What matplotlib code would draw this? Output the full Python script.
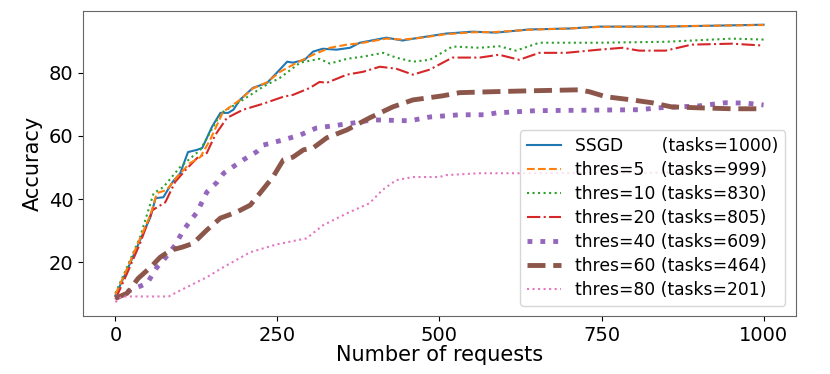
import numpy as np
import matplotlib
matplotlib.use('Agg')
import matplotlib.pyplot as plt

# values (x = number of requests, y = accuracy)
ssgd_x = [0, 18, 38, 54, 62, 74, 88, 100, 112, 126, 134, 149, 162, 174, 182, 192, 212,
          234, 249, 265, 274, 292, 305, 320, 341, 362, 377, 418, 443, 469, 510, 551,
          587, 638, 700, 746, 849, 1000]
ssgd_y = [9.5, 17.5, 27.0, 34.3, 40.3, 40.6, 45.4, 48.2, 54.9, 55.6, 56.2, 62.9, 67.3,
          67.3, 68.3, 71.4, 75.2, 76.8, 80.0, 83.5, 83.2, 84.1, 86.7, 87.6, 87.3, 87.9,
          89.5, 91.1, 90.2, 91.1, 92.4, 93.0, 92.7, 93.7, 94.0, 94.6, 94.6, 95.2]

thr5_x = [0, 18, 38, 54, 64, 79, 95, 115, 131, 146, 166, 192, 212, 234, 254, 280, 305,
          331, 357, 377, 418, 443, 469, 510, 551, 587, 638, 700, 746, 849, 1000]
thr5_y = [9.8, 18.0, 27.5, 35.0, 41.9, 42.9, 47.0, 51.4, 53.3, 58.7, 67.6, 71.4, 75.0,
          77.0, 80.3, 83.2, 85.7, 87.9, 88.9, 89.3, 90.8, 90.5, 91.0, 92.2, 92.8, 92.9,
          93.6, 94.0, 94.5, 94.7, 95.1]

thr10_x = [0, 18, 38, 59, 74, 100, 131, 157, 166, 192, 228, 254, 285, 315, 331, 357,
           382, 413, 433, 459, 485, 520, 562, 592, 618, 654, 746, 849, 951, 1000]
thr10_y = [10.2, 18.5, 28.0, 41.9, 43.8, 50.2, 55.6, 65.1, 67.6, 70.8, 75.6, 78.4, 83.2,
           84.4, 82.9, 84.4, 85.1, 86.3, 84.8, 83.5, 84.1, 88.3, 87.9, 88.4, 87.0, 89.5,
           89.5, 89.8, 90.8, 90.5]

thr20_x = [0, 18, 38, 57, 77, 92, 108, 126, 141, 154, 172, 197, 228, 259, 274, 300, 315,
           326, 357, 382, 408, 433, 459, 485, 520, 562, 592, 623, 654, 695, 746, 782,
           808, 849, 889, 951, 1000]
thr20_y = [8.3, 16.5, 26.0, 36.5, 39.0, 45.4, 49.2, 53.0, 54.6, 60.3, 65.7, 68.3, 70.2,
           72.4, 73.0, 75.2, 77.1, 76.8, 79.4, 80.3, 81.9, 81.3, 79.4, 81.0, 84.8, 84.8,
           85.7, 84.1, 86.3, 86.3, 87.3, 87.9, 87.0, 87.0, 88.9, 89.2, 88.6]

thr40_x = [0, 23, 49, 64, 74, 92, 105, 126, 141, 157, 167, 197, 218, 228, 258, 285, 310,
           335, 367, 397, 454, 485, 531, 572, 588, 649, 808, 838, 869, 900, 941, 972, 1000]
thr40_y = [8.6, 11.1, 13.4, 18.4, 20.6, 25.4, 30.2, 35.9, 42.2, 45.4, 48.2, 52.4, 55.0,
           57.1, 58.7, 60.3, 62.5, 63.2, 64.1, 65.1, 64.8, 66.0, 66.7, 66.7, 67.3, 68.0,
           68.3, 68.9, 69.2, 69.5, 70.5, 70.4, 69.8]

thr60_x = [0, 18, 35, 54, 69, 85, 103, 120, 141, 162, 187, 208, 223, 243, 259, 274, 290,
           305, 326, 357, 392, 428, 459, 505, 531, 582, 643, 715, 731, 757, 797, 828,
           858, 900, 951, 1000]
thr60_y = [8.6, 10.2, 14.9, 18.4, 21.6, 23.8, 24.8, 26.0, 30.2, 34.0, 35.9, 38.1, 41.9,
           47.0, 52.4, 53.3, 55.6, 56.2, 59.4, 61.9, 65.7, 69.2, 71.4, 72.7, 73.7, 74.0,
           74.3, 74.6, 74.0, 72.4, 71.4, 70.5, 69.2, 68.9, 68.6, 68.6]

thr80_x = [0, 10, 82, 100, 141, 166, 208, 249, 295, 320, 357, 392, 412, 433, 459, 500,
           510, 562, 634, 1000]
thr80_y = [7.4, 9.2, 9.2, 11.1, 15.3, 18.4, 23.2, 25.7, 27.6, 31.7, 35.5, 38.7, 42.9,
           46.0, 47.0, 47.0, 47.6, 48.2, 48.2, 48.5]

plt.rcParams['font.family'] = 'DejaVu Sans'
fig = plt.figure(figsize=(8.3, 3.74), dpi=100)
ax = fig.add_axes([0.1, 0.155, 0.859, 0.816])

ax.plot(thr5_x, thr5_y, color='C1', ls='--', lw=1.5, zorder=3)
ax.plot(ssgd_x, ssgd_y, color='C0', ls='-', lw=1.5, label='SSGD       (tasks=1000)', zorder=2)
ax.plot([], [], color='C1', ls='--', lw=1.5, label='thres=5   (tasks=999)')
ax.plot(thr10_x, thr10_y, color='C2', ls=':', lw=1.5, label='thres=10 (tasks=830)')
ax.plot(thr20_x, thr20_y, color='C3', ls='-.', lw=1.5, label='thres=20 (tasks=805)')
ax.plot(thr40_x, thr40_y, color='C4', ls=':', lw=3.5, label='thres=40 (tasks=609)')
ax.plot(thr60_x, thr60_y, color='C5', ls='--', lw=3.5, label='thres=60 (tasks=464)')
ax.plot(thr80_x, thr80_y, color='C6', ls=':', lw=1.5, label='thres=80 (tasks=201)')

ax.set_xticks([0, 250, 500, 750, 1000])
ax.set_yticks([20, 40, 60, 80])
ax.tick_params(labelsize=14)
ax.set_xlabel('Number of requests', fontsize=15, labelpad=0)
ax.set_ylabel('Accuracy', fontsize=15)
for s in ax.spines.values():
    s.set_color('0.4')
ax.legend(loc='lower right', fontsize=12.3, handlelength=2.0, labelspacing=0.35,
          borderaxespad=0.6, bbox_to_anchor=(0.999, 0.0))

fig.savefig('out.png', dpi=100)
